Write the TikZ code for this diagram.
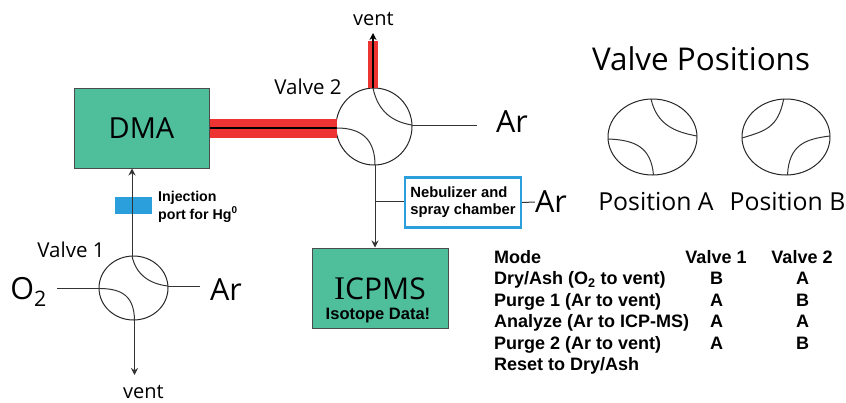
\documentclass[tikz,border=0pt]{standalone}
\usepackage{fontspec}
\setmainfont{Open Sans}
\newfontfamily\arialfont{Liberation Sans}
\newfontfamily\timesfont{Liberation Serif}
\usetikzlibrary{shapes,positioning,arrows.meta,calc}
\usepackage{xcolor}
\definecolor{boxgreen}{HTML}{4FBF9B}
\definecolor{portblue}{HTML}{2A9FDB}
\definecolor{pipered}{HTML}{EE3333}
\tikzset{
  valve/.style={ellipse,draw=black!85,line width=1pt,inner sep=0pt},
  greenbox/.style={rectangle,draw=black!70,fill=boxgreen,line width=1pt,inner sep=0pt},
  tubing/.style={draw=black!80,line width=1pt},
  redpipe/.style={draw=pipered},
  boldtxt/.style={font=\arialfont\bfseries\fontsize{#1}{#1}\selectfont,inner sep=0pt},
  sanstxt/.style={font=\fontsize{#1}{#1}\selectfont,inner sep=0pt},
  tabletxt/.style={boldtxt=18,anchor=base},
  tablerow/.style={boldtxt=18,anchor=base west},
}
\begin{document}
\begin{tikzpicture}[x=1pt,y=-1pt]
          \useasboundingbox (0,0) rectangle (846,402);
          \begin{scope}[>={Stealth[length=7pt,width=7pt]}]
            % boxes
            \node (dma) at (141.5,128) [greenbox,minimum width=135pt,minimum height=80pt,sanstxt=29]{DMA};
            \node (icpms) at (380,288) [greenbox,minimum width=136pt,minimum height=80pt]{};
            \node (icpmstxt) at (380,288.5) [sanstxt=30]{{\timesfont\fontsize{33}{33}\selectfont I}CPMS};
            \node (isotope) at (378,316) [boldtxt=16.5]{Isotope Data!};
            \node (neb) at (463,202.5) [rectangle,draw=portblue,line width=2.4pt,minimum width=116pt,minimum height=50pt,boldtxt=14.8,align=left]{Nebulizer and\\[2pt]spray chamber};
            \node (port) at (133.5,205.5) [rectangle,fill=portblue,minimum width=37pt,minimum height=17pt]{};

            % valves
            \node (v1) at (133.5,288) [valve,minimum width=69pt,minimum height=64pt]{};
            \node (v2) at (374,126.5) [valve,minimum width=76pt,minimum height=77pt]{};
            \node (posa) at (652.5,137) [valve,minimum width=89pt,minimum height=76pt]{};
            \node (posb) at (786,137) [valve,minimum width=88pt,minimum height=76pt]{};

            % labels
            \node (valve1) at (71,250) [sanstxt=20.5]{Valve 1};
            \node (valve2) at (308,87) [sanstxt=20.5]{Valve 2};
            \node (o2) at (28.5,292) [sanstxt=30.5]{O\textsubscript{2}};
            \node (ar1) at (226,290) [sanstxt=30.5]{Ar};
            \node (ar2) at (512,122) [sanstxt=30.5]{Ar};
            \node (ar3) at (551,202) [sanstxt=30.5]{Ar};
            \node (vent1) at (143.5,392) [sanstxt=20]{vent};
            \node (vent2) at (373.5,19.5) [sanstxt=20]{vent};
            \node (inj) at (158,206.5) [anchor=west,boldtxt=14.2,align=left]{Injection\\[2pt]port for Hg\textsuperscript{0}};
            \node (title) at (701,59) [sanstxt=31.4]{Valve Positions};
            \node (lposa) at (656,202) [sanstxt=24.8]{Position A};
            \node (lposb) at (787.5,202) [sanstxt=24.8]{Position B};

            % ports
            \coordinate (v1t) at (132,256);
            \coordinate (v1r) at (168,286);
            \coordinate (v1l) at (99,288.5);
            \coordinate (v1b) at (134.5,320);
            \coordinate (v2t) at (373,88);
            \coordinate (v2r) at (412,125);
            \coordinate (v2l) at (337,128);
            \coordinate (v2b) at (375,165);
            \coordinate (o2end) at (57,288.5);
            \coordinate (ar1end) at (200,286);
            \coordinate (ar2end) at (477,125);
            \coordinate (vent1end) at (134.5,375);
            \coordinate (vent2end) at (373,33);
            \coordinate (redend) at (373,41);
            \coordinate (tee) at (375,201);

            % red tubing
            \draw[redpipe,line width=19pt] (dma.east) -- (v2l);
            \draw[redpipe,line width=10pt] (v2t) -- (redend);
            \draw[black,line width=2pt] (dma.east) -- (v2l);
            \draw[->,black,line width=2pt] (v2t) -- (vent2end);

            % connections
            \draw[tubing,->] (v1t) -- (dma.south -| v1t);
            \draw[tubing,->] (v1b) -- (vent1end);
            \draw[tubing] (o2end) -- (v1l);
            \draw[tubing] (v1r) -- (ar1end);
            \draw[tubing] (v2r) -- (ar2end);
            \draw[tubing,->] (v2b) -- (icpms.north -| v2b);
            \draw[tubing] (tee) -- (tee -| neb.west);
            \draw[tubing] (neb.east) -- (ar3.west);

            % valve flow paths
            \draw[tubing] (v1t) .. controls (136,275) and (150,284) .. (v1r);
            \draw[tubing] (v1l) .. controls (122,288.5) and (134,296) .. (v1b);
            \draw[tubing] (v2t) .. controls (378,112) and (393,122) .. (v2r);
            \draw[tubing] (v2l) .. controls (362,128) and (375,140) .. (v2b);

            % position A
            \coordinate (pat) at (651,99);
            \coordinate (par) at (697,136);
            \coordinate (pal) at (608,139);
            \coordinate (pab) at (653.5,175);
            \draw[tubing] (pat) .. controls (657,125) and (675,132) .. (par);
            \draw[tubing] (pal) .. controls (635,140) and (651,147) .. (pab);

            % position B
            \coordinate (pbt) at (783.7,99);
            \coordinate (pbl) at (742,138);
            \coordinate (pbr) at (830,136);
            \coordinate (pbb) at (787.5,175);
            \draw[tubing] (pbt) .. controls (778,128) and (765,131) .. (pbl);
            \draw[tubing] (pbr) .. controls (805,139) and (789,145) .. (pbb);

            % table
            \node (mode) at (494,263) [tablerow]{Mode};
            \node (dry) at (494,284.5) [tablerow]{Dry/Ash (O\textsubscript{2} to vent)};
            \node (purge1) at (494,306) [tablerow]{Purge 1 (Ar to vent)};
            \node (analyze) at (494,327.5) [tablerow]{Analyze (Ar to ICP-MS)};
            \node (purge2) at (494,349) [tablerow]{Purge 2 (Ar to vent)};
            \node (reset) at (494,370.5) [tablerow]{Reset to Dry/Ash};

            \node (col1) at (716,263) [tabletxt]{Valve 1};
            \node (dry1) at (716.5,284.5) [tabletxt]{B};
            \node (purge11) at (716.5,306) [tabletxt]{A};
            \node (analyze1) at (716.5,327.5) [tabletxt]{A};
            \node (purge21) at (716.5,349) [tabletxt]{A};

            \node (col2) at (802,263) [tabletxt]{Valve 2};
            \node (dry2) at (802.5,284.5) [tabletxt]{A};
            \node (purge12) at (802.5,306) [tabletxt]{B};
            \node (analyze2) at (802.5,327.5) [tabletxt]{A};
            \node (purge22) at (802.5,349) [tabletxt]{B};
          \end{scope}
          \end{tikzpicture}
\end{document}
